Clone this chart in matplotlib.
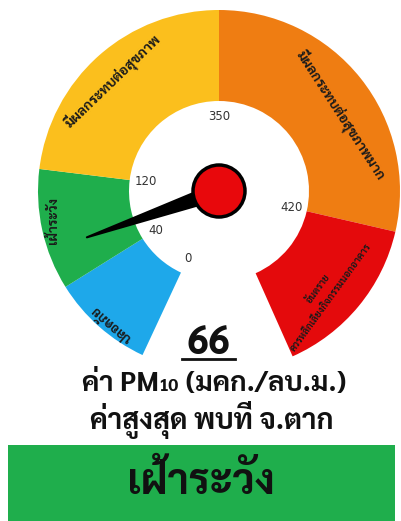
import numpy as np
import matplotlib
matplotlib.use('Agg')
import matplotlib.pyplot as plt
from matplotlib.patches import Wedge, Circle, Polygon, Rectangle
from matplotlib import font_manager
from matplotlib.ft2font import FT2Font

# ---------------- data ----------------
boundary_values = [0, 40, 120, 350, 420]
boundary_labels = ['0', '40', '120', '350', '420']
category_names = ['ปลอดภัย', 'เฝ้าระวัง', 'มีผลกระทบต่อสุขภาพ',
                  'มีผลกระทบต่อสุขภาพมาก',
                  'อันตราย\nควรหลีกเลี่ยงกิจกรรมนอกอาคาร']
category_colors = ['#1ea8ea', '#1fae4c', '#fbbf1d', '#ef7d12', '#e40a0c']
value = 66
value_label = '66'
unit_runs = [('ค่า PM', 'big'), ('10', 'small'), (' (มคก./ลบ.ม.)', 'big')]
station_label = 'ค่าสูงสุด พบที่ จ.ตาก'
status_label = 'เฝ้าระวัง'
status_color = '#1fae4c'

# ---------------- font ----------------
thai = {}
for f in font_manager.fontManager.ttflist:
    try:
        cm = FT2Font(f.fname).get_charmap()
    except Exception:
        continue
    if 0x0E01 in cm:
        thai.setdefault(f.name, set()).add(f.weight)
pref = ['Sarabun', 'Noto Sans Thai Looped', 'IBM Plex Sans Thai Looped',
        'Noto Sans Thai', 'Tahoma', 'Garuda', 'Loma', 'Kanit']
def has_bold(n):
    return any((w == 700) or (str(w) == 'bold') for w in thai[n])
chosen = [n for n in pref if n in thai and has_bold(n)]
if not chosen:
    chosen = [n for n in pref if n in thai] or sorted(thai)[:1]
fam = chosen[:1] + ['DejaVu Sans']
plt.rcParams['font.family'] = fam

W, H = 401, 521
fig = plt.figure(figsize=(W / 100, H / 100), dpi=100)
ax = fig.add_axes([0, 0, 1, 1])
ax.set_xlim(0, W)
ax.set_ylim(0, H)
ax.axis('off')

def Y(y):
    return H - y

cx, cy = 219, Y(191)
r_out, r_in = 181, 90
edges = [245, 212, 173, 90, -13, -66]   # layout angles of segment borders

for i, col in enumerate(category_colors):
    a1, a2 = edges[i + 1], edges[i]
    ax.add_patch(Wedge((cx, cy), r_out, a1, a2, width=r_out - r_in,
                       facecolor=col, edgecolor='none'))

# boundary labels
for lab, ang in zip(boundary_labels, edges[:5]):
    t = np.radians(ang)
    ax.text(cx + 74 * np.cos(t), cy + 74 * np.sin(t), lab, fontsize=8.5,
            color='#333333', ha='center', va='center', family='DejaVu Sans')

# category labels along the band: (angle, radius, rotation, size)
cat_pos = [(231, 170, 139, 9.5), (190, 168, 90, 9.5), (134, 152, 44, 10),
           (32, 143, -57, 10), (-44, 147, 54, 7)]
for name, (ang, rr, rot, fs) in zip(category_names, cat_pos):
    t = np.radians(ang)
    ax.text(cx + rr * np.cos(t), cy + rr * np.sin(t), name, fontsize=fs,
            rotation=rot, rotation_mode='anchor', ha='center', va='center',
            color='#1a1a1a', fontweight='bold', multialignment='center',
            linespacing=1.8)

# needle
na = np.radians(np.interp(value, boundary_values, edges[:5]))
L = 140
tip = (cx + L * np.cos(na), cy + L * np.sin(na))
perp = na + np.pi / 2
hw = 8
base1 = (cx + hw * np.cos(perp), cy + hw * np.sin(perp))
base2 = (cx - hw * np.cos(perp), cy - hw * np.sin(perp))
ax.add_patch(Polygon([base1, tip, base2], closed=True, facecolor='black',
                     edgecolor='black', joinstyle='round', linewidth=1.5))
ax.add_patch(Circle((cx, cy), 26, facecolor='#e8080c', edgecolor='black',
                    linewidth=2.5, zorder=5))

# value
ax.text(208, Y(344), value_label, fontsize=28, fontweight='bold', ha='center',
        va='center', color='#111111')
ax.plot([182, 235], [Y(359), Y(359)], color='#111111', lw=2)

# unit line with small "10"
fig.canvas.draw()
rend = fig.canvas.get_renderer()
sizes = {'big': 20, 'small': 13}
txts = []
for s, k in unit_runs:
    txts.append(ax.text(0, Y(391), s, fontsize=sizes[k], fontweight='bold',
                        ha='left', va='baseline', color='#111111'))
ws = [t.get_window_extent(renderer=rend).width for t in txts]
x = 214 - sum(ws) / 2
for t, w in zip(txts, ws):
    t.set_x(x)
    x += w

ax.text(212, Y(420), station_label, fontsize=20.5, fontweight='bold',
        ha='center', va='center', color='#111111')

ax.add_patch(Rectangle((8, Y(521)), 387, 521 - 445, facecolor=status_color,
                       edgecolor='none'))
ax.text(201, Y(483), status_label, fontsize=30, fontweight='bold',
        ha='center', va='center', color='#111111')

fig.savefig('out.png', dpi=100)
